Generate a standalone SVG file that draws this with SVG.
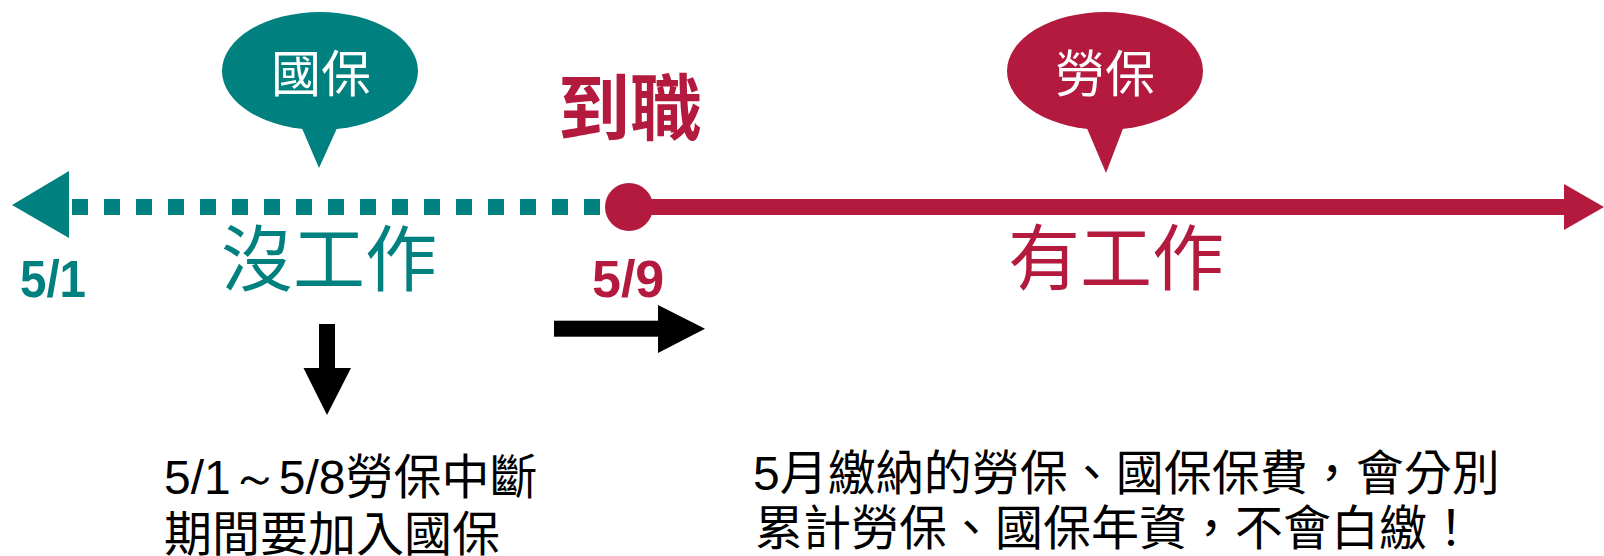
<svg xmlns="http://www.w3.org/2000/svg" width="1604" height="556" viewBox="0 0 1604 556">
<style>
.cjk{font-family:"Noto Sans CJK TC","Noto Sans CJK SC",sans-serif;}
.num{font-family:"Liberation Sans",Arial,sans-serif;font-weight:bold;}
.teal{fill:#00807E;}
.red{fill:#B41A3E;}
.white{fill:#FFFFFF;}
.blk{fill:#000000;}
</style>
<rect width="1604" height="556" fill="#FFFFFF"/>
<g id="connectors">
  <line x1="72" y1="207" x2="616" y2="207" stroke="#00807E" stroke-width="16" stroke-dasharray="16 16"/>
  <polygon points="12,205 69,171 69,238" class="teal"/>
  <line x1="629" y1="207" x2="1566" y2="207" stroke="#B41A3E" stroke-width="16"/>
  <polygon points="1564,184 1604,207 1564,230" class="red"/>
  <circle cx="629" cy="207" r="24" class="red"/>
  <rect x="319" y="324" width="16" height="45" class="blk"/>
  <polygon points="303.5,368 351,368 327,415" class="blk"/>
  <rect x="554" y="320.7" width="105" height="16" class="blk"/>
  <polygon points="658,305 658,353 705,328.7" class="blk"/>
</g>
<g id="bubble-guobao">
  <ellipse cx="320" cy="71" rx="98" ry="59" class="teal"/>
  <polygon points="301,126 338,126 319,168" class="teal"/>
  <text x="321" y="92" class="cjk white" font-size="50" text-anchor="middle">國保</text>
</g>
<g id="bubble-laobao">
  <ellipse cx="1105" cy="71" rx="98" ry="59" class="red"/>
  <polygon points="1086,126 1124,126 1106,173" class="red"/>
  <text x="1105" y="92" class="cjk white" font-size="50" text-anchor="middle">勞保</text>
</g>
<g id="label-daozhi">
  <text x="630" y="134" class="cjk red" font-size="72" font-weight="bold" text-anchor="middle">到職</text>
</g>
<g id="label-no-work">
  <text x="329" y="285" class="cjk teal" font-size="72" text-anchor="middle">沒工作</text>
</g>
<g id="label-work">
  <text x="1116" y="284" class="cjk red" font-size="72" text-anchor="middle">有工作</text>
</g>
<g id="date-51">
  <text x="20" y="296.7" class="num teal" font-size="52" textLength="66" lengthAdjust="spacingAndGlyphs">5/1</text>
</g>
<g id="date-59">
  <text x="592" y="296.7" class="num red" font-size="52">5/9</text>
</g>
<g id="note-left">
  <text class="cjk blk" font-size="48"><tspan x="164" y="494"><tspan font-family="Liberation Sans, Arial, sans-serif">5/1～5/8</tspan>勞保中斷</tspan><tspan x="164" y="551">期間要加入國保</tspan></text>
</g>
<g id="note-right">
  <text class="cjk blk" font-size="48"><tspan x="753" y="490"><tspan font-family="Liberation Sans, Arial, sans-serif">5</tspan>月繳納的勞保、國保保費，會分別</tspan><tspan x="755" y="545">累計勞保、國保年資，不會白繳！</tspan></text>
</g>
</svg>
